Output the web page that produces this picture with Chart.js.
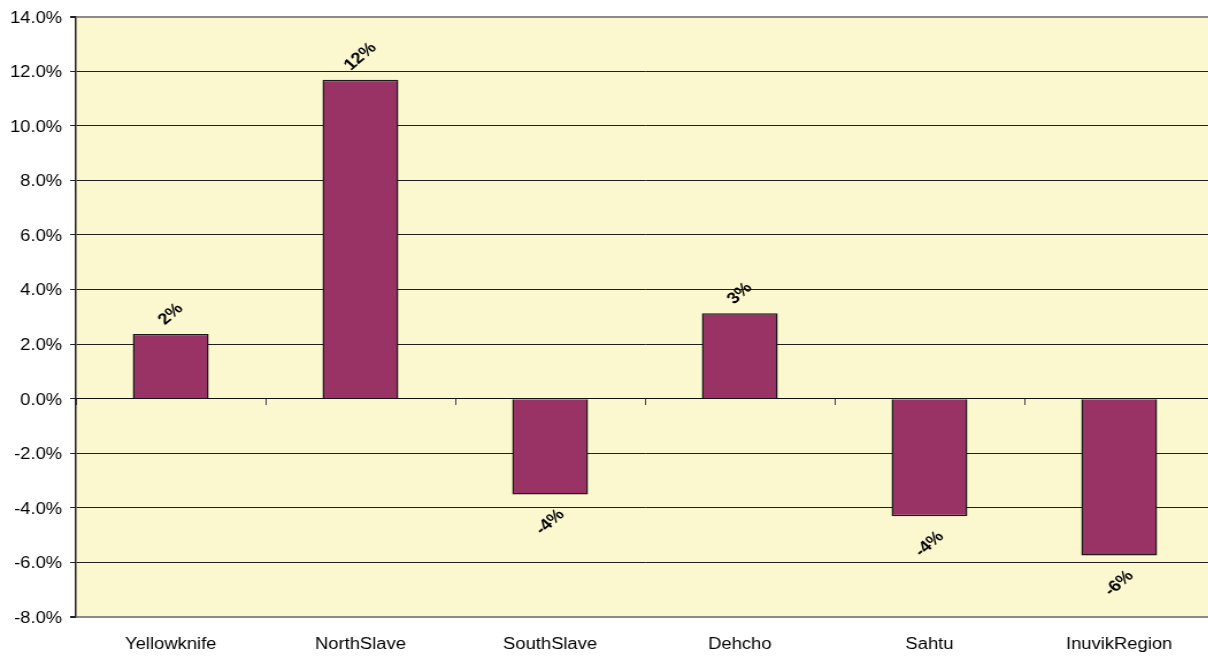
<!DOCTYPE html>
<html>
<head>
<meta charset="utf-8">
<title>Change by region</title>
<script src="https://cdn.jsdelivr.net/npm/chart.js@4.4.1/dist/chart.umd.min.js"></script>
<style>
  html, body { margin: 0; padding: 0; background: #fff; overflow: hidden; }
  /* chart is drawn narrower and widened to the page, which gives the wide Excel-style lettering */
  #chart { display: block; width: 1214px !important; height: 656px !important; }
</style>
</head>
<body>
<canvas id="chart" width="1056" height="656"></canvas>
<script>
const regions = ['Yellowknife', 'NorthSlave', 'SouthSlave', 'Dehcho', 'Sahtu', 'InuvikRegion'];
const change = [2.37, 11.69, -3.51, 3.13, -4.31, -5.75];
const yMin = -8;
const yMax = 14;
const yStep = 2;

Chart.defaults.font.family = '"Liberation Sans", Arial, sans-serif';
Chart.defaults.font.size = 16;
Chart.defaults.color = '#000';

// pale yellow plot area
const plotBackground = {
  id: 'plotBackground',
  beforeDraw(chart) {
    const { ctx, chartArea: a } = chart;
    ctx.save();
    ctx.fillStyle = '#FBF7CE';
    ctx.fillRect(a.left, a.top, a.right - a.left, a.bottom - a.top);
    ctx.restore();
  }
};

// rounded value written at the end of each bar, tilted
const barLabels = {
  id: 'barLabels',
  afterDatasetsDraw(chart) {
    const { ctx } = chart;
    const meta = chart.getDatasetMeta(0);
    const values = chart.data.datasets[0].data;
    const size = 16;
    ctx.save();
    ctx.font = 'bold ' + size + 'px "Liberation Sans", Arial, sans-serif';
    ctx.fillStyle = '#000';
    ctx.textAlign = 'center';
    ctx.textBaseline = 'middle';
    meta.data.forEach((bar, i) => {
      const v = values[i];
      const text = Math.round(v) + '%';
      const w = ctx.measureText(text).width;
      const half = (w + size) * Math.SQRT1_2 / 2;
      const y = v >= 0 ? bar.y - half - 6 : bar.y + half + 12;
      ctx.save();
      ctx.translate(bar.x, y);
      ctx.rotate(-Math.PI / 4);
      ctx.fillText(text, 0, 0);
      ctx.restore();
    });
    ctx.restore();
  }
};

const isEdge = c => c.tick && (c.tick.value === yMax || c.tick.value === yMin);

new Chart(document.getElementById('chart'), {
  type: 'bar',
  data: {
    labels: regions,
    datasets: [{
      data: change,
      backgroundColor: '#993366',
      borderColor: '#1a1a1a',
      borderWidth: 1.5,
      barPercentage: 0.4,
      categoryPercentage: 1
    }]
  },
  options: {
    responsive: false,
    animation: false,
    layout: { padding: { top: 16, right: 0, bottom: 0, left: 0 } },
    plugins: {
      legend: { display: false },
      tooltip: { enabled: false }
    },
    scales: {
      // category axis sitting on the zero line, only the little ticks between groups
      x: {
        type: 'category',
        position: { y: 0 },
        offset: true,
        grid: { offset: true, drawOnChartArea: false, drawTicks: true, tickLength: 6, color: '#444' },
        border: { display: true, color: '#111', width: 1 },
        ticks: { display: false }
      },
      // names along the bottom
      xb: {
        type: 'category',
        position: 'bottom',
        offset: true,
        grid: { display: false, drawTicks: false },
        border: { display: false },
        ticks: { padding: 18 },
        afterFit: s => { s.height = 39; }
      },
      y: {
        min: yMin,
        max: yMax,
        ticks: {
          stepSize: yStep,
          padding: 7,
          labelOffset: 1.5,
          callback: v => v.toFixed(1) + '%'
        },
        grid: {
          color: c => isEdge(c) ? '#8a8a8a' : '#1e1e1e',
          lineWidth: c => isEdge(c) ? 2 : 1,
          tickLength: 5,
          tickColor: '#222'
        },
        border: { color: '#222', width: 1.5 },
        afterFit: s => { s.width = 66; }
      }
    }
  },
  plugins: [plotBackground, barLabels]
});
</script>
</body>
</html>
